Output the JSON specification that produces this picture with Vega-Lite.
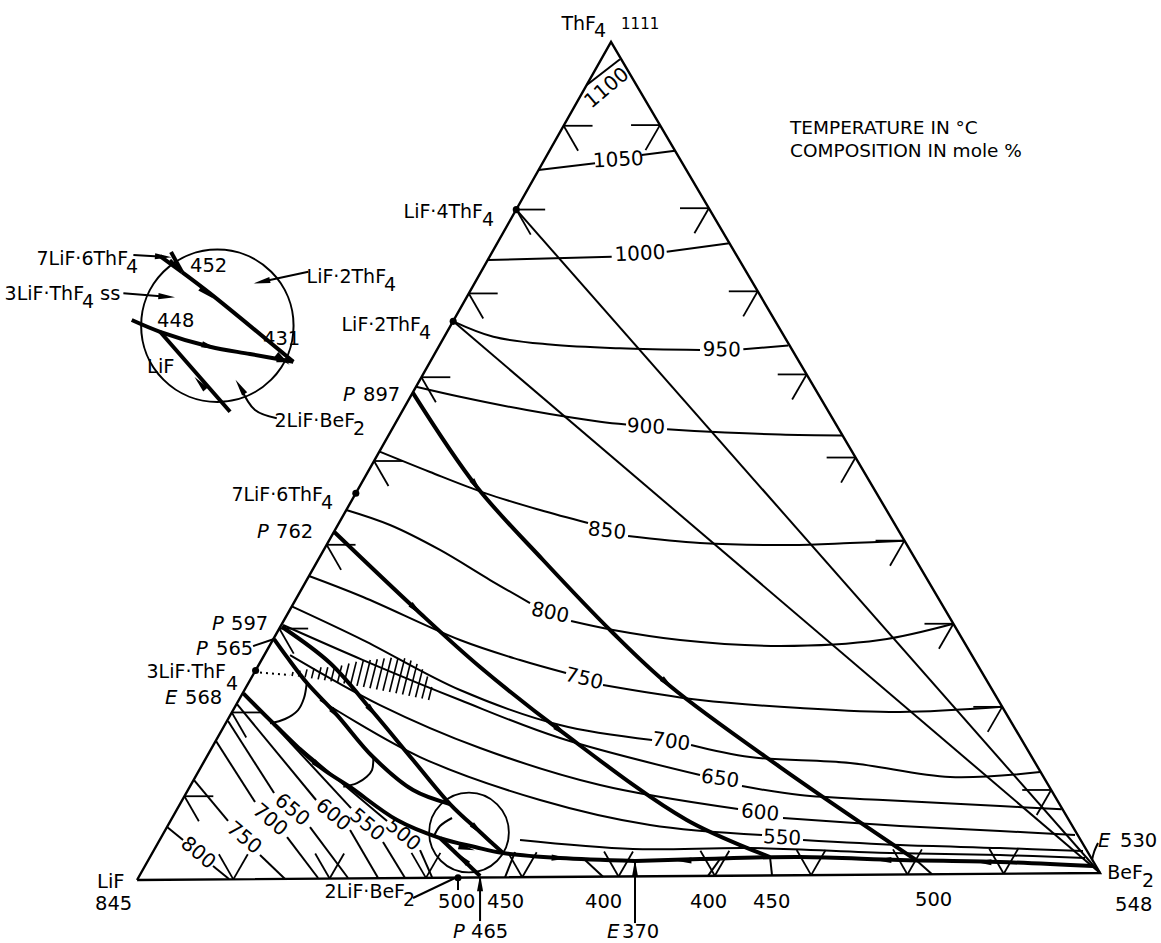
{
  "$schema": "https://vega.github.io/schema/vega-lite/v6.json",
  "width": 1161,
  "height": 943,
  "autosize": {"type": "fit", "contains": "padding"},
  "padding": 0,
  "background": "white",
  "config": {"view": {"stroke": null}},
  "datasets": {
    "tri": [
      {"o": 0, "x": 0, "y": -0.31}, {"o": 1, "x": 100.0, "y": 0.42}, {"o": 2, "x": 49.22, "y": 86.71}, {"o": 3, "x": 0, "y": -0.31}
    ],
    "thin": [
      {"id": "join4", "o": 0, "x": 39.38, "y": 69.30}, {"id": "join4", "o": 1, "x": 100.0, "y": 0.42},
      {"id": "join2", "o": 0, "x": 32.83, "y": 57.70}, {"id": "join2", "o": 1, "x": 100.0, "y": 0.42},
      {"id": "i1100", "o": 0, "x": 46.70, "y": 82.24}, {"id": "i1100", "o": 1, "x": 50.15, "y": 84.91},
      {"id": "i1050a", "o": 0, "x": 41.69, "y": 73.41}, {"id": "i1050a", "o": 1, "x": 47.56, "y": 74.11},
      {"id": "i1050b", "o": 0, "x": 52.41, "y": 74.97}, {"id": "i1050b", "o": 1, "x": 55.87, "y": 75.42},
      {"id": "i1000a", "o": 0, "x": 36.42, "y": 64.07}, {"id": "i1000a", "o": 1, "x": 49.29, "y": 64.41},
      {"id": "i1000b", "o": 0, "x": 55.00, "y": 64.93}, {"id": "i1000b", "o": 1, "x": 61.51, "y": 65.80},
      {"id": "i950a", "o": 0, "x": 32.83, "y": 57.70}, {"id": "i950a", "o": 1, "x": 37.00, "y": 56.10}, {"id": "i950a", "o": 2, "x": 42.89, "y": 55.30}, {"id": "i950a", "o": 3, "x": 50.15, "y": 54.90}, {"id": "i950a", "o": 4, "x": 58.46, "y": 54.72},
      {"id": "i950b", "o": 0, "x": 62.96, "y": 54.80}, {"id": "i950b", "o": 1, "x": 67.63, "y": 55.20},
      {"id": "i900a", "o": 0, "x": 28.97, "y": 50.91}, {"id": "i900a", "o": 1, "x": 33.54, "y": 49.87}, {"id": "i900a", "o": 2, "x": 40.47, "y": 48.49}, {"id": "i900a", "o": 3, "x": 48.08, "y": 47.28}, {"id": "i900a", "o": 4, "x": 50.78, "y": 46.99},
      {"id": "i900b", "o": 0, "x": 55.04, "y": 46.49}, {"id": "i900b", "o": 1, "x": 59.50, "y": 46.24}, {"id": "i900b", "o": 2, "x": 66.77, "y": 45.95}, {"id": "i900b", "o": 3, "x": 73.21, "y": 45.85},
      {"id": "i850a", "o": 0, "x": 25.13, "y": 44.20}, {"id": "i850a", "o": 1, "x": 30.43, "y": 42.06}, {"id": "i850a", "o": 2, "x": 36.14, "y": 39.87}, {"id": "i850a", "o": 3, "x": 41.85, "y": 38.11}, {"id": "i850a", "o": 4, "x": 46.83, "y": 36.76},
      {"id": "i850b", "o": 0, "x": 50.99, "y": 35.41}, {"id": "i850b", "o": 1, "x": 58.46, "y": 34.68}, {"id": "i850b", "o": 2, "x": 67.81, "y": 34.47}, {"id": "i850b", "o": 3, "x": 74.04, "y": 34.68}, {"id": "i850b", "o": 4, "x": 79.69, "y": 34.93},
      {"id": "i800a", "o": 0, "x": 21.73, "y": 38.11}, {"id": "i800a", "o": 1, "x": 26.27, "y": 36.55}, {"id": "i800a", "o": 2, "x": 31.46, "y": 33.96}, {"id": "i800a", "o": 3, "x": 36.66, "y": 30.84}, {"id": "i800a", "o": 4, "x": 40.81, "y": 28.45},
      {"id": "i800b", "o": 0, "x": 45.07, "y": 26.58}, {"id": "i800b", "o": 1, "x": 49.43, "y": 25.65}, {"id": "i800b", "o": 2, "x": 56.39, "y": 24.61}, {"id": "i800b", "o": 3, "x": 66.77, "y": 23.99}, {"id": "i800b", "o": 4, "x": 77.15, "y": 24.61}, {"id": "i800b", "o": 5, "x": 84.77, "y": 26.30},
      {"id": "i750a", "o": 0, "x": 17.86, "y": 31.26}, {"id": "i750a", "o": 1, "x": 23.47, "y": 29.08}, {"id": "i750a", "o": 2, "x": 33.54, "y": 24.61}, {"id": "i750a", "o": 3, "x": 39.77, "y": 22.53}, {"id": "i750a", "o": 4, "x": 44.55, "y": 21.18},
      {"id": "i750b", "o": 0, "x": 48.39, "y": 19.94}, {"id": "i750b", "o": 1, "x": 58.46, "y": 18.38}, {"id": "i750b", "o": 2, "x": 68.85, "y": 17.55}, {"id": "i750b", "o": 3, "x": 79.23, "y": 17.13}, {"id": "i750b", "o": 4, "x": 89.84, "y": 17.67},
      {"id": "i700a", "o": 0, "x": 16.07, "y": 28.11}, {"id": "i700a", "o": 1, "x": 23.47, "y": 24.61}, {"id": "i700a", "o": 2, "x": 33.54, "y": 19.42}, {"id": "i700a", "o": 3, "x": 43.92, "y": 15.78}, {"id": "i700a", "o": 4, "x": 53.48, "y": 14.23},
      {"id": "i700b", "o": 0, "x": 57.53, "y": 13.71}, {"id": "i700b", "o": 1, "x": 63.65, "y": 12.46}, {"id": "i700b", "o": 2, "x": 74.04, "y": 11.84}, {"id": "i700b", "o": 3, "x": 84.42, "y": 10.38}, {"id": "i700b", "o": 4, "x": 93.77, "y": 10.90},
      {"id": "i650a", "o": 0, "x": 15.16, "y": 26.17}, {"id": "i650a", "o": 1, "x": 23.47, "y": 22.53}, {"id": "i650a", "o": 2, "x": 33.54, "y": 18.38}, {"id": "i650a", "o": 3, "x": 43.92, "y": 14.43}, {"id": "i650a", "o": 4, "x": 58.46, "y": 10.59},
      {"id": "i650b", "o": 0, "x": 62.82, "y": 9.45}, {"id": "i650b", "o": 1, "x": 68.85, "y": 8.51}, {"id": "i650b", "o": 2, "x": 77.46, "y": 8.00}, {"id": "i650b", "o": 3, "x": 89.61, "y": 7.37}, {"id": "i650b", "o": 4, "x": 96.02, "y": 7.05},
      {"id": "i600a", "o": 0, "x": 15.89, "y": 23.05}, {"id": "i600a", "o": 1, "x": 25.23, "y": 17.86}, {"id": "i600a", "o": 2, "x": 35.62, "y": 13.40}, {"id": "i600a", "o": 3, "x": 48.08, "y": 9.55}, {"id": "i600a", "o": 4, "x": 62.41, "y": 7.06},
      {"id": "i600b", "o": 0, "x": 67.08, "y": 6.13}, {"id": "i600b", "o": 1, "x": 79.23, "y": 5.30}, {"id": "i600b", "o": 2, "x": 89.61, "y": 4.78}, {"id": "i600b", "o": 3, "x": 97.40, "y": 4.36},
      {"id": "i550a", "o": 0, "x": 19.00, "y": 18.38}, {"id": "i550a", "o": 1, "x": 29.39, "y": 12.46}, {"id": "i550a", "o": 2, "x": 41.85, "y": 8.00}, {"id": "i550a", "o": 3, "x": 53.27, "y": 5.40}, {"id": "i550a", "o": 4, "x": 64.90, "y": 4.36},
      {"id": "i550b", "o": 0, "x": 69.16, "y": 3.84}, {"id": "i550b", "o": 1, "x": 79.23, "y": 3.32}, {"id": "i550b", "o": 2, "x": 89.61, "y": 3.01}, {"id": "i550b", "o": 3, "x": 98.23, "y": 2.70},
      {"id": "i500", "o": 0, "x": 39.77, "y": 3.84}, {"id": "i500", "o": 1, "x": 51.50, "y": 2.91}, {"id": "i500", "o": 2, "x": 63.65, "y": 3.01}, {"id": "i500", "o": 3, "x": 78.19, "y": 2.49}, {"id": "i500", "o": 4, "x": 89.61, "y": 2.28}, {"id": "i500", "o": 5, "x": 98.44, "y": 1.97},
      {"id": "L800a", "o": 0, "x": 3.12, "y": 5.19}, {"id": "L800a", "o": 1, "x": 4.78, "y": 3.84},
      {"id": "L800b", "o": 0, "x": 7.89, "y": 1.14}, {"id": "L800b", "o": 1, "x": 9.55, "y": -0.21},
      {"id": "L750a", "o": 0, "x": 5.92, "y": 10.07}, {"id": "L750a", "o": 1, "x": 9.45, "y": 5.82},
      {"id": "L750b", "o": 0, "x": 12.77, "y": 2.28}, {"id": "L750b", "o": 1, "x": 15.37, "y": -0.21},
      {"id": "L700a", "o": 0, "x": 8.20, "y": 14.12}, {"id": "L700a", "o": 1, "x": 12.25, "y": 7.79},
      {"id": "L700b", "o": 0, "x": 15.58, "y": 4.15}, {"id": "L700b", "o": 1, "x": 18.80, "y": -0.10},
      {"id": "L650a", "o": 0, "x": 9.45, "y": 16.20}, {"id": "L650a", "o": 1, "x": 14.23, "y": 8.72},
      {"id": "L650b", "o": 0, "x": 17.96, "y": 5.19}, {"id": "L650b", "o": 1, "x": 21.91, "y": -0.10},
      {"id": "L600a", "o": 0, "x": 10.38, "y": 17.96}, {"id": "L600a", "o": 1, "x": 18.59, "y": 8.00},
      {"id": "L600b", "o": 0, "x": 22.12, "y": 4.88}, {"id": "L600b", "o": 1, "x": 25.03, "y": -0.10},
      {"id": "L550a", "o": 0, "x": 12.98, "y": 17.13}, {"id": "L550a", "o": 1, "x": 22.22, "y": 7.16},
      {"id": "L550b", "o": 0, "x": 25.54, "y": 3.63}, {"id": "L550b", "o": 1, "x": 27.83, "y": -0.10},
      {"id": "L500a", "o": 0, "x": 16.93, "y": 13.40}, {"id": "L500a", "o": 1, "x": 25.96, "y": 5.82},
      {"id": "L500b", "o": 0, "x": 29.39, "y": 2.80}, {"id": "L500b", "o": 1, "x": 30.63, "y": 0.0},
      {"id": "s450a", "o": 0, "x": 39.25, "y": 2.60}, {"id": "s450a", "o": 1, "x": 38.21, "y": -0.04},
      {"id": "s400a", "o": 0, "x": 46.52, "y": 1.77}, {"id": "s400a", "o": 1, "x": 48.39, "y": 0.04},
      {"id": "s400b", "o": 0, "x": 60.54, "y": 1.87}, {"id": "s400b", "o": 1, "x": 59.29, "y": 0.12},
      {"id": "s450b", "o": 0, "x": 65.73, "y": 2.08}, {"id": "s450b", "o": 1, "x": 65.94, "y": 0.17},
      {"id": "s500b", "o": 0, "x": 80.89, "y": 1.77}, {"id": "s500b", "o": 1, "x": 82.55, "y": 0.29},
      {"id": "arc1", "o": 0, "x": 17.62, "y": 20.11}, {"id": "arc1", "o": 1, "x": 17.34, "y": 18.59}, {"id": "arc1", "o": 2, "x": 16.72, "y": 17.34}, {"id": "arc1", "o": 3, "x": 15.37, "y": 16.41}, {"id": "arc1", "o": 4, "x": 13.81, "y": 15.96},
      {"id": "arc2", "o": 0, "x": 24.54, "y": 12.49}, {"id": "arc2", "o": 1, "x": 24.40, "y": 11.11}, {"id": "arc2", "o": 2, "x": 23.85, "y": 10.42}, {"id": "arc2", "o": 3, "x": 22.84, "y": 9.76}, {"id": "arc2", "o": 4, "x": 21.42, "y": 9.38},
      {"id": "arc3", "o": 0, "x": 30.84, "y": 4.26}, {"id": "arc3", "o": 1, "x": 31.46, "y": 5.30}, {"id": "arc3", "o": 2, "x": 32.71, "y": 6.13},
      {"id": "lead7", "o": 0, "x": -0.38, "y": 64.59}, {"id": "lead7", "o": 1, "x": 2.73, "y": 64.41},
      {"id": "lead3", "o": 0, "x": -1.42, "y": 60.61}, {"id": "lead3", "o": 1, "x": 3.08, "y": 60.26},
      {"id": "leadL2", "o": 0, "x": 17.79, "y": 62.85}, {"id": "leadL2", "o": 1, "x": 12.95, "y": 61.82},
      {"id": "lead2B", "o": 0, "x": 14.51, "y": 47.63}, {"id": "lead2B", "o": 1, "x": 12.25, "y": 48.49}, {"id": "lead2B", "o": 2, "x": 10.70, "y": 50.91},
      {"id": "leadP565", "o": 0, "x": 12.05, "y": 23.98}, {"id": "leadP565", "o": 1, "x": 14.23, "y": 24.71},
      {"id": "leadB", "o": 0, "x": 28.66, "y": -2.18}, {"id": "leadB", "o": 1, "x": 33.02, "y": -0.10},
      {"id": "leadE530", "o": 0, "x": 99.79, "y": 3.53}, {"id": "leadE530", "o": 1, "x": 99.38, "y": 2.60}, {"id": "leadE530", "o": 2, "x": 99.17, "y": 1.77},
      {"id": "arrP465", "o": 0, "x": 35.62, "y": -4.57}, {"id": "arrP465", "o": 1, "x": 35.62, "y": -0.10},
      {"id": "arrE370", "o": 0, "x": 51.71, "y": -4.78}, {"id": "arrE370", "o": 1, "x": 51.71, "y": 1.56},
      {"id": "sep500", "o": 0, "x": 33.33, "y": -0.10}, {"id": "sep500", "o": 1, "x": 33.33, "y": -1.35}
    ],
    "thick": [
      {"id": "B1", "o": 0, "x": 28.63, "y": 50.30}, {"id": "B1", "o": 1, "x": 35.27, "y": 40.53}, {"id": "B1", "o": 2, "x": 42.16, "y": 32.92}, {"id": "B1", "o": 3, "x": 49.43, "y": 25.34}, {"id": "B1", "o": 4, "x": 55.35, "y": 19.83}, {"id": "B1", "o": 5, "x": 66.77, "y": 11.42}, {"id": "B1", "o": 6, "x": 80.89, "y": 1.77},
      {"id": "B2", "o": 0, "x": 20.46, "y": 35.86}, {"id": "B2", "o": 1, "x": 29.04, "y": 27.73}, {"id": "B2", "o": 2, "x": 35.62, "y": 21.81}, {"id": "B2", "o": 3, "x": 44.10, "y": 15.09}, {"id": "B2", "o": 4, "x": 57.08, "y": 5.92}, {"id": "B2", "o": 5, "x": 65.73, "y": 2.08},
      {"id": "B3", "o": 0, "x": 15.03, "y": 25.99}, {"id": "B3", "o": 1, "x": 20.04, "y": 22.22}, {"id": "B3", "o": 2, "x": 24.51, "y": 17.13}, {"id": "B3", "o": 3, "x": 28.66, "y": 12.15}, {"id": "B3", "o": 4, "x": 32.50, "y": 7.58}, {"id": "B3", "o": 5, "x": 35.62, "y": 4.67}, {"id": "B3", "o": 6, "x": 38.01, "y": 2.49},
      {"id": "B4", "o": 0, "x": 14.23, "y": 24.71}, {"id": "B4", "o": 1, "x": 15.58, "y": 22.84}, {"id": "B4", "o": 2, "x": 17.65, "y": 20.14}, {"id": "B4", "o": 3, "x": 20.77, "y": 16.82}, {"id": "B4", "o": 4, "x": 24.51, "y": 12.46}, {"id": "B4", "o": 5, "x": 28.66, "y": 9.03}, {"id": "B4", "o": 6, "x": 32.50, "y": 7.58},
      {"id": "B5", "o": 0, "x": 11.04, "y": 19.08}, {"id": "B5", "o": 1, "x": 14.12, "y": 15.99}, {"id": "B5", "o": 2, "x": 19.00, "y": 11.42}, {"id": "B5", "o": 3, "x": 22.12, "y": 9.35}, {"id": "B5", "o": 4, "x": 27.00, "y": 5.92}, {"id": "B5", "o": 5, "x": 31.46, "y": 4.05}, {"id": "B5", "o": 6, "x": 35.10, "y": 3.12}, {"id": "B5", "o": 7, "x": 38.01, "y": 2.49}, {"id": "B5", "o": 8, "x": 43.92, "y": 1.97}, {"id": "B5", "o": 9, "x": 51.71, "y": 1.66},
      {"id": "B6", "o": 0, "x": 99.27, "y": 1.14}, {"id": "B6", "o": 1, "x": 89.61, "y": 1.56}, {"id": "B6", "o": 2, "x": 79.23, "y": 1.77}, {"id": "B6", "o": 3, "x": 68.85, "y": 2.08}, {"id": "B6", "o": 4, "x": 58.46, "y": 1.87}, {"id": "B6", "o": 5, "x": 51.71, "y": 1.66},
      {"id": "B7", "o": 0, "x": 35.62, "y": 0.10}, {"id": "B7", "o": 1, "x": 31.46, "y": 4.05},
      {"id": "Ia", "o": 0, "x": 2.39, "y": 64.48}, {"id": "Ia", "o": 1, "x": 4.67, "y": 62.82},
      {"id": "Ib", "o": 0, "x": 3.53, "y": 64.90}, {"id": "Ib", "o": 1, "x": 4.67, "y": 62.82},
      {"id": "I2", "o": 0, "x": 4.67, "y": 62.82}, {"id": "I2", "o": 1, "x": 7.58, "y": 60.61}, {"id": "I2", "o": 2, "x": 16.23, "y": 53.51},
      {"id": "I3", "o": 0, "x": -0.55, "y": 57.84}, {"id": "I3", "o": 1, "x": 2.39, "y": 56.62}, {"id": "I3", "o": 2, "x": 7.58, "y": 55.07}, {"id": "I3", "o": 3, "x": 11.73, "y": 54.31}, {"id": "I3", "o": 4, "x": 16.23, "y": 53.51},
      {"id": "I4", "o": 0, "x": 2.39, "y": 56.62}, {"id": "I4", "o": 1, "x": 9.66, "y": 48.32}
    ],
    "ticks": [
      {"x": 4.92, "y": 8.39, "x2": 7.92, "y2": 8.39}, {"x": 4.92, "y": 8.39, "x2": 6.42, "y2": 5.79},
      {"x": 9.84, "y": 17.09, "x2": 12.84, "y2": 17.09}, {"x": 9.84, "y": 17.09, "x2": 11.34, "y2": 14.49},
      {"x": 14.77, "y": 25.80, "x2": 17.77, "y2": 25.80}, {"x": 14.77, "y": 25.80, "x2": 16.27, "y2": 23.20},
      {"x": 19.69, "y": 34.50, "x2": 22.69, "y2": 34.50}, {"x": 19.69, "y": 34.50, "x2": 21.19, "y2": 31.90},
      {"x": 24.61, "y": 43.20, "x2": 27.61, "y2": 43.20}, {"x": 24.61, "y": 43.20, "x2": 26.11, "y2": 40.60},
      {"x": 29.53, "y": 51.90, "x2": 32.53, "y2": 51.90}, {"x": 29.53, "y": 51.90, "x2": 31.03, "y2": 49.30},
      {"x": 34.45, "y": 60.60, "x2": 37.45, "y2": 60.60}, {"x": 34.45, "y": 60.60, "x2": 35.95, "y2": 58.00},
      {"x": 39.38, "y": 69.31, "x2": 42.38, "y2": 69.31}, {"x": 39.38, "y": 69.31, "x2": 40.88, "y2": 66.71},
      {"x": 44.30, "y": 78.01, "x2": 47.30, "y2": 78.01}, {"x": 44.30, "y": 78.01, "x2": 45.80, "y2": 75.41},
      {"x": 94.92, "y": 9.04, "x2": 91.92, "y2": 9.04}, {"x": 94.92, "y": 9.04, "x2": 93.42, "y2": 6.44},
      {"x": 89.84, "y": 17.67, "x2": 86.84, "y2": 17.67}, {"x": 89.84, "y": 17.67, "x2": 88.34, "y2": 15.07},
      {"x": 84.77, "y": 26.30, "x2": 81.77, "y2": 26.30}, {"x": 84.77, "y": 26.30, "x2": 83.27, "y2": 23.70},
      {"x": 79.69, "y": 34.93, "x2": 76.69, "y2": 34.93}, {"x": 79.69, "y": 34.93, "x2": 78.19, "y2": 32.33},
      {"x": 74.61, "y": 43.56, "x2": 71.61, "y2": 43.56}, {"x": 74.61, "y": 43.56, "x2": 73.11, "y2": 40.96},
      {"x": 69.53, "y": 52.19, "x2": 66.53, "y2": 52.19}, {"x": 69.53, "y": 52.19, "x2": 68.03, "y2": 49.59},
      {"x": 64.45, "y": 60.82, "x2": 61.45, "y2": 60.82}, {"x": 64.45, "y": 60.82, "x2": 62.95, "y2": 58.22},
      {"x": 59.38, "y": 69.45, "x2": 56.38, "y2": 69.45}, {"x": 59.38, "y": 69.45, "x2": 57.88, "y2": 66.85},
      {"x": 54.30, "y": 78.08, "x2": 51.30, "y2": 78.08}, {"x": 54.30, "y": 78.08, "x2": 52.80, "y2": 75.48},
      {"x": 10, "y": -0.24, "x2": 8.5, "y2": 2.36}, {"x": 10, "y": -0.24, "x2": 11.5, "y2": 2.36},
      {"x": 20, "y": -0.16, "x2": 18.5, "y2": 2.44}, {"x": 20, "y": -0.16, "x2": 21.5, "y2": 2.44},
      {"x": 30, "y": -0.09, "x2": 28.5, "y2": 2.51}, {"x": 30, "y": -0.09, "x2": 31.5, "y2": 2.51},
      {"x": 40, "y": -0.02, "x2": 38.5, "y2": 2.58}, {"x": 40, "y": -0.02, "x2": 41.5, "y2": 2.58},
      {"x": 50, "y": 0.05, "x2": 48.5, "y2": 2.65}, {"x": 50, "y": 0.05, "x2": 51.5, "y2": 2.65},
      {"x": 60, "y": 0.13, "x2": 58.5, "y2": 2.73}, {"x": 60, "y": 0.13, "x2": 61.5, "y2": 2.73},
      {"x": 70, "y": 0.20, "x2": 68.5, "y2": 2.80}, {"x": 70, "y": 0.20, "x2": 71.5, "y2": 2.80},
      {"x": 80, "y": 0.27, "x2": 78.5, "y2": 2.87}, {"x": 80, "y": 0.27, "x2": 81.5, "y2": 2.87},
      {"x": 90, "y": 0.34, "x2": 88.5, "y2": 2.94}, {"x": 90, "y": 0.34, "x2": 91.5, "y2": 2.94}
    ],
    "hatch": [
      {"x": 16.10, "y": 20.87, "x2": 16.20, "y2": 21.29}, {"x": 16.77, "y": 20.81, "x2": 16.93, "y2": 21.43},
      {"x": 17.45, "y": 20.73, "x2": 17.65, "y2": 21.56}, {"x": 18.12, "y": 20.63, "x2": 18.38, "y2": 21.67},
      {"x": 18.80, "y": 20.53, "x2": 19.11, "y2": 21.78}, {"x": 19.47, "y": 20.43, "x2": 19.81, "y2": 21.78},
      {"x": 20.14, "y": 20.32, "x2": 20.53, "y2": 21.88}, {"x": 20.82, "y": 20.21, "x2": 21.26, "y2": 21.97},
      {"x": 21.49, "y": 20.09, "x2": 22.01, "y2": 22.17}, {"x": 22.17, "y": 19.97, "x2": 22.77, "y2": 22.36},
      {"x": 22.84, "y": 19.85, "x2": 23.49, "y2": 22.45}, {"x": 23.52, "y": 19.73, "x2": 24.22, "y2": 22.53},
      {"x": 24.19, "y": 19.60, "x2": 24.95, "y2": 22.62}, {"x": 24.87, "y": 19.48, "x2": 25.67, "y2": 22.70},
      {"x": 25.54, "y": 19.35, "x2": 26.40, "y2": 22.77}, {"x": 26.22, "y": 19.21, "x2": 27.10, "y2": 22.74},
      {"x": 26.89, "y": 19.09, "x2": 27.80, "y2": 22.72}, {"x": 27.57, "y": 18.95, "x2": 28.45, "y2": 22.48},
      {"x": 28.24, "y": 18.81, "x2": 29.08, "y2": 22.13}, {"x": 28.92, "y": 18.67, "x2": 29.65, "y2": 21.58},
      {"x": 29.59, "y": 18.54, "x2": 30.17, "y2": 20.82}, {"x": 30.27, "y": 18.39, "x2": 30.61, "y2": 19.74}
    ],
    "dotted": [
      {"x": 12.15, "y": 21.29, "x2": 15.89, "y2": 20.98}
    ],
    "circles": [
      {"k": "inset", "x": 8.34, "y": 57.25},
      {"k": "zone", "x": 34.47, "y": 4.62}
    ],
    "dots": [
      {"x": 39.38, "y": 69.30}, {"x": 32.83, "y": 57.70}, {"x": 22.72, "y": 39.85}, {"x": 12.31, "y": 21.45}, {"x": 33.33, "y": -0.07}
    ],
    "arrows": [
      {"x": 35.27, "y": 40.53, "dir": 55}, {"x": 55.14, "y": 20.04, "dir": 42},
      {"x": 29.04, "y": 27.73, "dir": 43}, {"x": 44.10, "y": 15.09, "dir": 38},
      {"x": 24.51, "y": 17.13, "dir": 49}, {"x": 35.41, "y": 4.88, "dir": 43},
      {"x": 20.77, "y": 16.82, "dir": 47}, {"x": 19.00, "y": 11.42, "dir": 40},
      {"x": 34.24, "y": 2.98, "dir": 14}, {"x": 43.92, "y": 1.97, "dir": 3},
      {"x": 56.70, "y": 1.71, "dir": 180}, {"x": 77.46, "y": 1.77, "dir": 180}, {"x": 87.85, "y": 1.56, "dir": 181},
      {"x": 33.75, "y": 1.97, "dir": 224},
      {"x": 7.24, "y": 60.61, "dir": 38}, {"x": 15.16, "y": 53.74, "dir": 38},
      {"x": 7.58, "y": 55.07, "dir": 17}, {"x": 15.37, "y": 53.60, "dir": 10},
      {"x": 6.54, "y": 51.27, "dir": 229}, {"x": 4.05, "y": 63.45, "dir": 36},
      {"x": 2.73, "y": 64.41, "dir": 4}, {"x": 3.08, "y": 60.26, "dir": 4},
      {"x": 12.95, "y": 61.82, "dir": 168}, {"x": 10.70, "y": 50.91, "dir": 237},
      {"x": 35.62, "y": -0.62, "dir": 270}, {"x": 51.71, "y": 0.93, "dir": 270}
    ],
    "labels": [
      {"g": "main", "t": "ThF", "x": 47.66, "y": 88.00},
      {"g": "main", "t": "LiF·4ThF", "x": 35.93, "y": 68.43},
      {"g": "main", "t": "LiF·2ThF", "x": 29.49, "y": 56.70},
      {"g": "main", "t": "2LiF·BeF", "x": 22.64, "y": 46.73},
      {"g": "main", "t": "7LiF·6ThF", "x": 19.31, "y": 39.04},
      {"g": "main", "t": "3LiF·ThF", "x": 9.24, "y": 20.66},
      {"g": "main", "t": "LiF·2ThF", "x": 25.86, "y": 61.68},
      {"g": "main", "t": "7LiF·6ThF", "x": -0.93, "y": 63.55},
      {"g": "main", "t": "3LiF·ThF", "x": -5.50, "y": 59.92},
      {"g": "main", "t": "BeF", "x": 104.46, "y": -0.21},
      {"g": "main", "t": "2LiF·BeF", "x": 27.83, "y": -2.18},
      {"g": "sub", "t": "4", "x": 47.45, "y": 87.23},
      {"g": "sub", "t": "4", "x": 35.82, "y": 67.60},
      {"g": "sub", "t": "4", "x": 29.28, "y": 55.87},
      {"g": "sub", "t": "2", "x": 22.43, "y": 45.90},
      {"g": "sub", "t": "4", "x": 19.11, "y": 38.21},
      {"g": "sub", "t": "4", "x": 9.24, "y": 19.42},
      {"g": "sub", "t": "4", "x": 25.65, "y": 60.85},
      {"g": "sub", "t": "4", "x": -1.14, "y": 62.72},
      {"g": "sub", "t": "4", "x": -5.71, "y": 59.08},
      {"g": "sub", "t": "2", "x": 104.36, "y": -1.04},
      {"g": "sub", "t": "2", "x": 27.62, "y": -3.01},
      {"g": "plain", "t": "897", "x": 23.47, "y": 49.43},
      {"g": "plain", "t": "762", "x": 14.43, "y": 35.20},
      {"g": "plain", "t": "597", "x": 9.76, "y": 25.65},
      {"g": "plain", "t": "565", "x": 8.20, "y": 23.05},
      {"g": "plain", "t": "568", "x": 4.98, "y": 17.96},
      {"g": "plain", "t": "452", "x": 5.50, "y": 62.82},
      {"g": "plain", "t": "448", "x": 2.08, "y": 57.11},
      {"g": "plain", "t": "431", "x": 13.08, "y": 55.24},
      {"g": "plain", "t": "LiF", "x": 1.04, "y": 52.34},
      {"g": "plain", "t": "LiF", "x": -4.15, "y": -1.14},
      {"g": "plain", "t": "845", "x": -4.36, "y": -3.43},
      {"g": "plain", "t": "548", "x": 101.56, "y": -3.53},
      {"g": "plain", "t": "530", "x": 102.07, "y": 3.12},
      {"g": "plain", "t": "500", "x": 31.26, "y": -3.22},
      {"g": "plain", "t": "450", "x": 36.34, "y": -3.22},
      {"g": "plain", "t": "465", "x": 34.68, "y": -6.33},
      {"g": "plain", "t": "400", "x": 46.52, "y": -3.22},
      {"g": "plain", "t": "370", "x": 50.36, "y": -6.33},
      {"g": "plain", "t": "400", "x": 57.42, "y": -3.22},
      {"g": "plain", "t": "450", "x": 63.97, "y": -3.22},
      {"g": "plain", "t": "500", "x": 80.79, "y": -3.01},
      {"g": "plain", "t": "ss", "x": -3.84, "y": 59.92},
      {"g": "ital", "t": "P", "x": 21.39, "y": 49.43},
      {"g": "ital", "t": "P", "x": 12.46, "y": 35.20},
      {"g": "ital", "t": "P", "x": 7.79, "y": 25.65},
      {"g": "ital", "t": "P", "x": 6.13, "y": 23.05},
      {"g": "ital", "t": "E", "x": 2.91, "y": 17.96},
      {"g": "ital", "t": "E", "x": 99.79, "y": 3.12},
      {"g": "ital", "t": "P", "x": 32.81, "y": -6.33},
      {"g": "ital", "t": "E", "x": 48.80, "y": -6.33},
      {"g": "small", "t": "1111", "x": 50.26, "y": 88.06},
      {"g": "head", "t": "TEMPERATURE IN °C", "x": 67.81, "y": 77.15},
      {"g": "head", "t": "COMPOSITION IN mole %", "x": 67.81, "y": 74.77},
      {"g": "aN40", "t": "1100", "x": 48.80, "y": 81.93},
      {"g": "aN3", "t": "1050", "x": 49.98, "y": 74.45},
      {"g": "aN3", "t": "1000", "x": 52.23, "y": 64.69},
      {"g": "a1", "t": "950", "x": 60.72, "y": 54.72},
      {"g": "a3", "t": "900", "x": 52.85, "y": 46.73},
      {"g": "a6", "t": "850", "x": 48.80, "y": 35.93},
      {"g": "a12", "t": "800", "x": 42.89, "y": 27.41},
      {"g": "a14", "t": "750", "x": 46.42, "y": 20.56},
      {"g": "a8", "t": "700", "x": 55.45, "y": 14.02},
      {"g": "a8", "t": "650", "x": 60.54, "y": 10.18},
      {"g": "a6", "t": "600", "x": 64.69, "y": 6.65},
      {"g": "a3", "t": "550", "x": 66.98, "y": 4.05},
      {"g": "a40", "t": "800", "x": 6.33, "y": 2.49},
      {"g": "a40", "t": "750", "x": 11.11, "y": 4.05},
      {"g": "a40", "t": "700", "x": 13.81, "y": 5.92},
      {"g": "a40", "t": "650", "x": 16.10, "y": 6.96},
      {"g": "a40", "t": "600", "x": 20.35, "y": 6.44},
      {"g": "a40", "t": "550", "x": 23.88, "y": 5.40},
      {"g": "a40", "t": "500", "x": 27.62, "y": 4.36}
    ]
  },
  "layer": [
    {
      "data": {"name": "tri"},
      "mark": {"type": "line", "stroke": "black", "strokeWidth": 2.4, "interpolate": "linear", "strokeJoin": "miter"},
      "encoding": {
        "x": {"field": "x", "type": "quantitative", "scale": {"domain": [-14.23, 106.33], "nice": false, "zero": false}, "axis": null},
        "y": {"field": "y", "type": "quantitative", "scale": {"domain": [-6.85, 91.07], "nice": false, "zero": false}, "axis": null},
        "order": {"field": "o", "type": "quantitative"}
      }
    },
    {
      "data": {"name": "thin"},
      "mark": {"type": "line", "stroke": "black", "strokeWidth": 2, "interpolate": "catmull-rom"},
      "encoding": {
        "x": {"field": "x", "type": "quantitative", "axis": null},
        "y": {"field": "y", "type": "quantitative", "axis": null},
        "detail": {"field": "id", "type": "nominal"},
        "order": {"field": "o", "type": "quantitative"}
      }
    },
    {
      "data": {"name": "thick"},
      "mark": {"type": "line", "stroke": "black", "strokeWidth": 4, "interpolate": "catmull-rom"},
      "encoding": {
        "x": {"field": "x", "type": "quantitative", "axis": null},
        "y": {"field": "y", "type": "quantitative", "axis": null},
        "detail": {"field": "id", "type": "nominal"},
        "order": {"field": "o", "type": "quantitative"}
      }
    },
    {
      "data": {"name": "ticks"},
      "mark": {"type": "rule", "stroke": "black", "strokeWidth": 1.8},
      "encoding": {
        "x": {"field": "x", "type": "quantitative", "axis": null},
        "y": {"field": "y", "type": "quantitative", "axis": null},
        "x2": {"field": "x2"},
        "y2": {"field": "y2"}
      }
    },
    {
      "data": {"name": "hatch"},
      "mark": {"type": "rule", "stroke": "black", "strokeWidth": 1.6},
      "encoding": {
        "x": {"field": "x", "type": "quantitative", "axis": null},
        "y": {"field": "y", "type": "quantitative", "axis": null},
        "x2": {"field": "x2"},
        "y2": {"field": "y2"}
      }
    },
    {
      "data": {"name": "dotted"},
      "mark": {"type": "rule", "stroke": "black", "strokeWidth": 2, "strokeDash": [2, 4]},
      "encoding": {
        "x": {"field": "x", "type": "quantitative", "axis": null},
        "y": {"field": "y", "type": "quantitative", "axis": null},
        "x2": {"field": "x2"},
        "y2": {"field": "y2"}
      }
    },
    {
      "data": {"name": "circles"},
      "transform": [{"filter": "datum.k == 'inset'"}],
      "mark": {"type": "point", "shape": "circle", "size": 23235, "filled": false, "stroke": "black", "strokeWidth": 2, "opacity": 1},
      "encoding": {
        "x": {"field": "x", "type": "quantitative", "axis": null},
        "y": {"field": "y", "type": "quantitative", "axis": null}
      }
    },
    {
      "data": {"name": "circles"},
      "transform": [{"filter": "datum.k == 'zone'"}],
      "mark": {"type": "point", "shape": "circle", "size": 6362, "filled": false, "stroke": "black", "strokeWidth": 1.8, "opacity": 1},
      "encoding": {
        "x": {"field": "x", "type": "quantitative", "axis": null},
        "y": {"field": "y", "type": "quantitative", "axis": null}
      }
    },
    {
      "data": {"name": "dots"},
      "mark": {"type": "point", "shape": "circle", "size": 50, "filled": true, "fill": "black", "opacity": 1},
      "encoding": {
        "x": {"field": "x", "type": "quantitative", "axis": null},
        "y": {"field": "y", "type": "quantitative", "axis": null}
      }
    },
    {
      "data": {"name": "arrows"},
      "mark": {"type": "point", "shape": "M 1 0 L -1 -0.36 L -1 0.36 Z", "size": 280, "filled": true, "fill": "black", "opacity": 1},
      "encoding": {
        "x": {"field": "x", "type": "quantitative", "axis": null},
        "y": {"field": "y", "type": "quantitative", "axis": null},
        "angle": {"field": "dir", "type": "quantitative", "scale": null}
      }
    },
    {
      "data": {"name": "labels"},
      "transform": [{"filter": "datum.g == 'main'"}],
      "mark": {"type": "text", "align": "right", "baseline": "alphabetic", "font": "DejaVu Sans", "fontSize": 19, "fill": "black"},
      "encoding": {
        "x": {"field": "x", "type": "quantitative", "axis": null},
        "y": {"field": "y", "type": "quantitative", "axis": null},
        "text": {"field": "t"}
      }
    },
    {
      "data": {"name": "labels"},
      "transform": [{"filter": "datum.g == 'sub'"}],
      "mark": {"type": "text", "align": "left", "baseline": "alphabetic", "font": "DejaVu Sans", "fontSize": 19, "fill": "black"},
      "encoding": {
        "x": {"field": "x", "type": "quantitative", "axis": null},
        "y": {"field": "y", "type": "quantitative", "axis": null},
        "text": {"field": "t"}
      }
    },
    {
      "data": {"name": "labels"},
      "transform": [{"filter": "datum.g == 'plain'"}],
      "mark": {"type": "text", "align": "left", "baseline": "alphabetic", "font": "DejaVu Sans", "fontSize": 19.5, "fill": "black"},
      "encoding": {
        "x": {"field": "x", "type": "quantitative", "axis": null},
        "y": {"field": "y", "type": "quantitative", "axis": null},
        "text": {"field": "t"}
      }
    },
    {
      "data": {"name": "labels"},
      "transform": [{"filter": "datum.g == 'ital'"}],
      "mark": {"type": "text", "align": "left", "baseline": "alphabetic", "font": "DejaVu Sans", "fontSize": 19.5, "fontStyle": "italic", "fill": "black"},
      "encoding": {
        "x": {"field": "x", "type": "quantitative", "axis": null},
        "y": {"field": "y", "type": "quantitative", "axis": null},
        "text": {"field": "t"}
      }
    },
    {
      "data": {"name": "labels"},
      "transform": [{"filter": "datum.g == 'small'"}],
      "mark": {"type": "text", "align": "left", "baseline": "alphabetic", "font": "DejaVu Sans", "fontSize": 15, "fill": "black"},
      "encoding": {
        "x": {"field": "x", "type": "quantitative", "axis": null},
        "y": {"field": "y", "type": "quantitative", "axis": null},
        "text": {"field": "t"}
      }
    },
    {
      "data": {"name": "labels"},
      "transform": [{"filter": "datum.g == 'head'"}],
      "mark": {"type": "text", "align": "left", "baseline": "alphabetic", "font": "DejaVu Sans", "fontSize": 18.5, "fill": "black"},
      "encoding": {
        "x": {"field": "x", "type": "quantitative", "axis": null},
        "y": {"field": "y", "type": "quantitative", "axis": null},
        "text": {"field": "t"}
      }
    },
    {
      "data": {"name": "labels"},
      "transform": [{"filter": "datum.g == 'aN40'"}],
      "mark": {"type": "text", "align": "center", "baseline": "middle", "font": "DejaVu Sans", "fontSize": 20, "angle": 320, "fill": "black"},
      "encoding": {
        "x": {"field": "x", "type": "quantitative", "axis": null},
        "y": {"field": "y", "type": "quantitative", "axis": null},
        "text": {"field": "t"}
      }
    },
    {
      "data": {"name": "labels"},
      "transform": [{"filter": "datum.g == 'aN3'"}],
      "mark": {"type": "text", "align": "center", "baseline": "middle", "font": "DejaVu Sans", "fontSize": 20, "angle": 357, "fill": "black"},
      "encoding": {
        "x": {"field": "x", "type": "quantitative", "axis": null},
        "y": {"field": "y", "type": "quantitative", "axis": null},
        "text": {"field": "t"}
      }
    },
    {
      "data": {"name": "labels"},
      "transform": [{"filter": "datum.g == 'a1'"}],
      "mark": {"type": "text", "align": "center", "baseline": "middle", "font": "DejaVu Sans", "fontSize": 20, "angle": 1, "fill": "black"},
      "encoding": {
        "x": {"field": "x", "type": "quantitative", "axis": null},
        "y": {"field": "y", "type": "quantitative", "axis": null},
        "text": {"field": "t"}
      }
    },
    {
      "data": {"name": "labels"},
      "transform": [{"filter": "datum.g == 'a3'"}],
      "mark": {"type": "text", "align": "center", "baseline": "middle", "font": "DejaVu Sans", "fontSize": 20, "angle": 3, "fill": "black"},
      "encoding": {
        "x": {"field": "x", "type": "quantitative", "axis": null},
        "y": {"field": "y", "type": "quantitative", "axis": null},
        "text": {"field": "t"}
      }
    },
    {
      "data": {"name": "labels"},
      "transform": [{"filter": "datum.g == 'a6'"}],
      "mark": {"type": "text", "align": "center", "baseline": "middle", "font": "DejaVu Sans", "fontSize": 20, "angle": 6, "fill": "black"},
      "encoding": {
        "x": {"field": "x", "type": "quantitative", "axis": null},
        "y": {"field": "y", "type": "quantitative", "axis": null},
        "text": {"field": "t"}
      }
    },
    {
      "data": {"name": "labels"},
      "transform": [{"filter": "datum.g == 'a8'"}],
      "mark": {"type": "text", "align": "center", "baseline": "middle", "font": "DejaVu Sans", "fontSize": 20, "angle": 8, "fill": "black"},
      "encoding": {
        "x": {"field": "x", "type": "quantitative", "axis": null},
        "y": {"field": "y", "type": "quantitative", "axis": null},
        "text": {"field": "t"}
      }
    },
    {
      "data": {"name": "labels"},
      "transform": [{"filter": "datum.g == 'a12'"}],
      "mark": {"type": "text", "align": "center", "baseline": "middle", "font": "DejaVu Sans", "fontSize": 20, "angle": 12, "fill": "black"},
      "encoding": {
        "x": {"field": "x", "type": "quantitative", "axis": null},
        "y": {"field": "y", "type": "quantitative", "axis": null},
        "text": {"field": "t"}
      }
    },
    {
      "data": {"name": "labels"},
      "transform": [{"filter": "datum.g == 'a14'"}],
      "mark": {"type": "text", "align": "center", "baseline": "middle", "font": "DejaVu Sans", "fontSize": 20, "angle": 14, "fill": "black"},
      "encoding": {
        "x": {"field": "x", "type": "quantitative", "axis": null},
        "y": {"field": "y", "type": "quantitative", "axis": null},
        "text": {"field": "t"}
      }
    },
    {
      "data": {"name": "labels"},
      "transform": [{"filter": "datum.g == 'a40'"}],
      "mark": {"type": "text", "align": "center", "baseline": "middle", "font": "DejaVu Sans", "fontSize": 20, "angle": 40, "fill": "black"},
      "encoding": {
        "x": {"field": "x", "type": "quantitative", "axis": null},
        "y": {"field": "y", "type": "quantitative", "axis": null},
        "text": {"field": "t"}
      }
    }
  ]
}
